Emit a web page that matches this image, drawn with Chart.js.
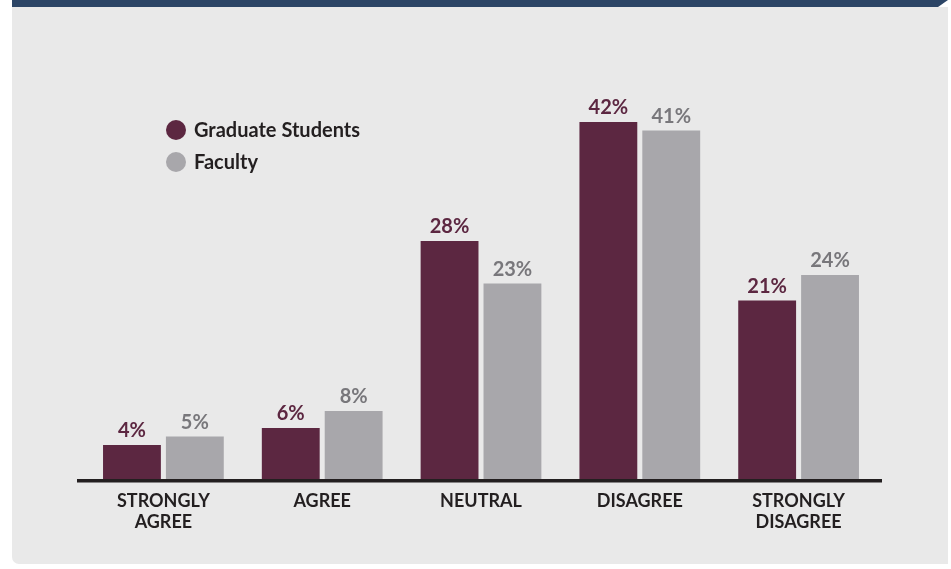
<!DOCTYPE html>
<html>
<head>
<meta charset="utf-8">
<script src="https://cdn.jsdelivr.net/npm/chart.js@4.4.0/dist/chart.umd.min.js"></script>
<style>
  html, body { margin: 0; padding: 0; background: #ffffff; }
  #wrap { position: relative; width: 951px; height: 569px; overflow: hidden; }
  #panel {
    position: absolute; left: 12px; top: 7px; width: 936px; height: 557px;
    background: #e9e9e9; border-bottom-left-radius: 7px;
  }
  #band {
    position: absolute; left: 12px; top: 0; width: 936px; height: 7px;
    background: #2c4566;
    clip-path: polygon(0 0, 100% 0, 926px 100%, 0 100%);
  }
  #chart { position: absolute; left: 0; top: 0; }
</style>
</head>
<body>
<div id="wrap">
  <div id="panel"></div>
  <div id="band"></div>
  <canvas id="chart" width="951" height="569"></canvas>
</div>
<script>
const categories = [['STRONGLY', 'AGREE'], 'AGREE', 'NEUTRAL', 'DISAGREE', ['STRONGLY', 'DISAGREE']];
const gradStudents = [4, 6, 28, 42, 21];
const faculty = [5, 8, 23, 41, 24];
const seriesNames = ['Graduate Students', 'Faculty'];

const MAROON = '#5c2741';
const GREY = '#a8a7ab';
const GREY_TEXT = '#78777b';
const INK = '#231f20';

// подписи значений над столбцами
const valueLabels = {
    id: 'valueLabels',
    afterDatasetsDraw(chart) {
        const ctx = chart.ctx;
        ctx.save();
        ctx.font = 'bold 20px Lato';
        ctx.textAlign = 'center';
        ctx.textBaseline = 'alphabetic';
        chart.data.datasets.forEach((ds, i) => {
            const meta = chart.getDatasetMeta(i);
            ctx.fillStyle = ds.labelColor;
            meta.data.forEach((bar, j) => {
                ctx.fillText(ds.data[j] + '%', bar.x, bar.y - 8);
            });
        });
        ctx.restore();
    }
};

// ось X чуть шире области графика
const axisLine = {
    id: 'axisLine',
    afterDatasetsDraw(chart) {
        const ctx = chart.ctx;
        const y = chart.scales.y.getPixelForValue(0);
        ctx.save();
        ctx.fillStyle = INK;
        ctx.fillRect(chart.chartArea.left - 7, y, chart.chartArea.right - chart.chartArea.left + 11, 3.5);
        ctx.restore();
    }
};

// легенда с кружками
const dotLegend = {
    id: 'dotLegend',
    afterDraw(chart) {
        const ctx = chart.ctx;
        ctx.save();
        ctx.font = 'bold 20px Lato';
        ctx.textBaseline = 'middle';
        chart.data.datasets.forEach((ds, i) => {
            const cy = 130 + i * 32;
            ctx.fillStyle = ds.backgroundColor;
            ctx.beginPath();
            ctx.arc(176, cy, 10, 0, Math.PI * 2);
            ctx.fill();
            ctx.fillStyle = INK;
            ctx.fillText(ds.label, 194, cy + 1);
        });
        ctx.restore();
    }
};

new Chart(document.getElementById('chart'), {
    type: 'bar',
    data: {
        labels: categories,
        datasets: [
            { label: seriesNames[0], data: gradStudents, backgroundColor: MAROON, labelColor: MAROON },
            { label: seriesNames[1], data: faculty, backgroundColor: GREY, labelColor: GREY_TEXT }
        ]
    },
    options: {
        responsive: false,
        animation: false,
        events: [],
        categoryPercentage: 0.792,
        barPercentage: 0.92,
        layout: { padding: { left: 84, right: 73, top: 54, bottom: 0 } },
        plugins: { legend: { display: false }, tooltip: { enabled: false } },
        scales: {
            x: {
                grid: { display: false, drawTicks: false },
                border: { display: false },
                ticks: {
                    color: INK,
                    padding: 11,
                    font: { family: 'Lato', weight: 'bold', size: 18, lineHeight: 1.2 },
                    maxRotation: 0
                },
                afterFit(scale) { scale.height = 90; }
            },
            y: { display: false, min: 0, max: 50 }
        }
    },
    plugins: [valueLabels, axisLine, dotLegend]
});
</script>
</body>
</html>
